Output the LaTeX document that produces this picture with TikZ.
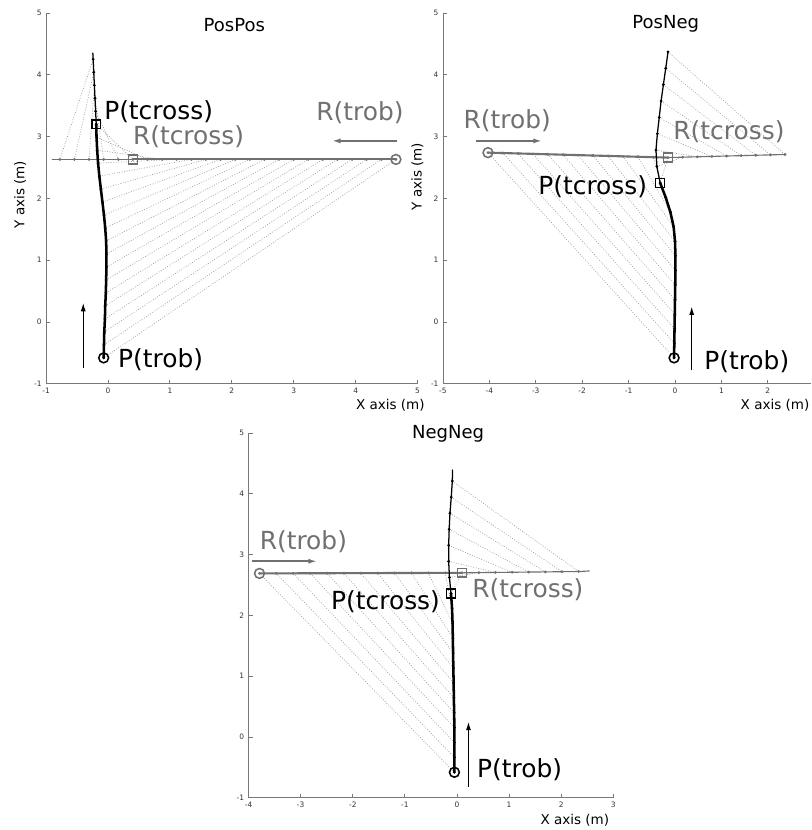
\documentclass[tikz,border=0pt]{standalone}
\usepackage{fontspec}
\setmainfont{DejaVu Sans}
\usetikzlibrary{arrows.meta}
\definecolor{rgrey}{RGB}{112,112,112}
\definecolor{tracegrey}{RGB}{160,160,160}
\definecolor{axisgrey}{RGB}{120,120,120}
\begin{document}
\begin{tikzpicture}[x=0.025cm,y=-0.025cm,
    axisline/.style={axisgrey,line width=0.6pt},
    ticklab/.style={font=\fontsize{5.3}{6}\selectfont,text=black!80,inner sep=1pt},
    axislab/.style={font=\fontsize{9.6}{11}\selectfont,inner sep=0pt},
    paneltitle/.style={font=\fontsize{12.8}{15}\selectfont,inner sep=0pt},
    biglab/.style={font=\fontsize{17.7}{20}\selectfont,inner sep=0pt,anchor=west},
    trace/.style={tracegrey,line width=0.5pt,dash pattern=on 0.6pt off 1.2pt},
    pthick/.style={black,line width=1.8pt,line cap=round,line join=round},
    pthin/.style={black,line width=0.9pt,line cap=round,line join=round},
    rthick/.style={rgrey,line width=1.5pt,line cap=round,line join=round},
    rthin/.style={rgrey,line width=0.8pt,line cap=round,line join=round},
    startmark/.style={circle,draw,line width=1.1pt,minimum size=7pt,inner sep=0pt},
    crossmark/.style={rectangle,draw,line width=1.1pt,minimum size=6.3pt,inner sep=0pt},
    parrow/.style={black,line width=0.8pt,-{Latex[length=6pt,width=3.6pt]}},
    rarrow/.style={rgrey,line width=1.1pt,-{Latex[length=6pt,width=3.6pt]}}]
  \useasboundingbox (0,0) rectangle (811,830);

  % PosPos
  \begin{scope}[shift={(108,322)},x=1.5475cm,y=1.545cm]
    \draw[axisline] (-1,5) -- (-1,-1) -- (5,-1);
    \foreach \t in {-1,...,5} {
      \draw[axisline] (\t,-1) -- ++(0,3pt);
      \node[ticklab,below=2pt] (xta\t) at (\t,-1) {\t};
      \draw[axisline] (-1,\t) -- ++(3pt,0);
      \node[ticklab,left=2pt] (yta\t) at (-1,\t) {\t};
    }
    \foreach \i/\x in {0/-0.07,1/-0.065,2/-0.06,3/-0.05,4/-0.045,5/-0.035,6/-0.03,7/-0.025,
        8/-0.025,9/-0.03,10/-0.045,11/-0.065,12/-0.09,13/-0.115,14/-0.14,15/-0.16,
        16/-0.175,17/-0.185,18/-0.19,19/-0.20,20/-0.21,21/-0.22,22/-0.23,23/-0.24}
      \coordinate (pa\i) at (\x,{-0.58+0.21*\i});
    \foreach \i in {0,...,23}
      \coordinate (ra\i) at ({4.65-0.236*\i},2.63);
    \coordinate (paend) at (-0.245,4.35);
    \coordinate (raend) at (-0.9,2.63);
    \foreach \i in {0,...,23}
      \draw[trace] (pa\i) -- (ra\i);
    \draw[rthick] (ra0) \foreach \i in {1,...,18} {-- (ra\i)};
    \draw[rthin] (ra18) \foreach \i in {19,...,23} {-- (ra\i)} -- (raend);
    \draw[pthick] (pa0) \foreach \i in {1,...,18} {-- (pa\i)};
    \draw[pthin] (pa18) \foreach \i in {19,...,23} {-- (pa\i)} -- (paend);
    \foreach \i in {0,...,23} {
      \fill[rgrey] (ra\i) circle (1.1pt);
      \fill (pa\i) circle (1.1pt);
    }
    \node[startmark,rgrey] (rtroba) at (ra0) {};
    \node[crossmark,rgrey] (rtcra) at (ra18) {};
    \node[startmark] (ptroba) at (pa0) {};
    \node[crossmark] (ptcra) at (pa18) {};
    \coordinate (pfroma) at (-0.40,-0.74);
    \coordinate (ptoa) at (-0.40,0.31);
    \draw[parrow] (pfroma) -- (ptoa);
    \coordinate (rfroma) at (4.67,2.93);
    \coordinate (rtoa) at (3.62,2.93);
    \draw[rarrow] (rfroma) -- (rtoa);
    \node[paneltitle] (titlea) at (2.04,4.81) {PosPos};
    \node[biglab] (pcrossa) at (-0.065,3.40) {P(tcross)};
    \node[biglab,rgrey] (rcrossa) at (0.40,2.99) {R(tcross)};
    \node[biglab,rgrey] (rroba) at (3.36,3.38) {R(trob)};
    \node[biglab] (proba) at (0.16,-0.61) {P(trob)};
    \node[axislab,rotate=90] (ylaba) at (-1.42,2.06) {Y axis (m)};
    \node[axislab] (xlaba) at (4.56,-1.34) {X axis (m)};
  \end{scope}

  % PosNeg
  \begin{scope}[shift={(675,322)},x=1.16cm,y=1.545cm]
    \draw[axisline] (-5,5) -- (-5,-1) -- (2.93,-1);
    \foreach \t in {-5,...,2} {
      \draw[axisline] (\t,-1) -- ++(0,3pt);
      \node[ticklab,below=2pt] (xtb\t) at (\t,-1) {\t};
    }
    \foreach \t in {-1,...,5} {
      \draw[axisline] (-5,\t) -- ++(3pt,0);
      \node[ticklab,left=2pt] (ytb\t) at (-5,\t) {\t};
    }
    \foreach \i/\x/\y in {0/-0.02/-0.58,1/-0.015/-0.344,2/-0.01/-0.108,3/-0.005/0.127,
        4/0.0/0.363,5/0.005/0.599,6/0.01/0.835,7/0.01/1.071,8/0.0/1.306,9/-0.03/1.542,
        10/-0.10/1.778,11/-0.20/2.014,12/-0.32/2.25,13/-0.39/2.515,14/-0.41/2.78,
        15/-0.38/3.045,16/-0.34/3.31,17/-0.30/3.575,18/-0.25/3.84,19/-0.20/4.105,20/-0.15/4.37}
      \coordinate (pb\i) at (\x,\y);
    \foreach \i in {0,...,12}
      \coordinate (rb\i) at ({-4.03+0.3233*\i},{2.74-0.0067*\i});
    \foreach \i in {13,...,20}
      \coordinate (rb\i) at ({-0.15+0.315*(\i-12)},{2.66+0.00625*(\i-12)});
    \foreach \i in {0,...,20}
      \draw[trace] (pb\i) -- (rb\i);
    \draw[rthick] (rb0) \foreach \i in {1,...,12} {-- (rb\i)};
    \draw[rthin] (rb12) \foreach \i in {13,...,20} {-- (rb\i)};
    \draw[pthick] (pb0) \foreach \i in {1,...,12} {-- (pb\i)};
    \draw[pthin] (pb12) \foreach \i in {13,...,20} {-- (pb\i)};
    \foreach \i in {0,...,20} {
      \fill[rgrey] (rb\i) circle (1.1pt);
      \fill (pb\i) circle (1.1pt);
    }
    \node[startmark,rgrey] (rtrobb) at (rb0) {};
    \node[crossmark,rgrey] (rtcrb) at (rb12) {};
    \node[startmark] (ptrobb) at (pb0) {};
    \node[crossmark] (ptcrb) at (pb12) {};
    \coordinate (pfromb) at (0.36,-0.78);
    \coordinate (ptob) at (0.36,0.25);
    \draw[parrow] (pfromb) -- (ptob);
    \coordinate (rfromb) at (-4.29,2.93);
    \coordinate (rtob) at (-2.87,2.93);
    \draw[rarrow] (rfromb) -- (rtob);
    \node[paneltitle] (titleb) at (-0.20,4.83) {PosNeg};
    \node[biglab,rgrey] (rrobb) at (-4.56,3.26) {R(trob)};
    \node[biglab,rgrey] (rcrossb) at (-0.04,3.08) {R(tcross)};
    \node[biglab] (pcrossb) at (-2.95,2.19) {P(tcross)};
    \node[biglab] (probb) at (0.625,-0.64) {P(trob)};
    \node[axislab,rotate=90] (ylabb) at (-5.55,2.35) {Y axis (m)};
    \node[axislab] (xlabb) at (2.155,-1.34) {X axis (m)};
  \end{scope}

  % NegNeg
  \begin{scope}[shift={(457,737)},x=1.3025cm,y=1.52cm]
    \draw[axisline] (-4,5) -- (-4,-1) -- (3,-1);
    \foreach \t in {-4,...,3} {
      \draw[axisline] (\t,-1) -- ++(0,3pt);
      \node[ticklab,below=2pt] (xtc\t) at (\t,-1) {\t};
    }
    \foreach \t in {-1,...,5} {
      \draw[axisline] (-4,\t) -- ++(3pt,0);
      \node[ticklab,left=2pt] (ytc\t) at (-4,\t) {\t};
    }
    \foreach \i/\x/\y in {0/-0.05/-0.58,1/-0.05/-0.335,2/-0.05/-0.09,3/-0.05/0.155,
        4/-0.055/0.40,5/-0.06/0.645,6/-0.065/0.89,7/-0.07/1.135,8/-0.075/1.38,
        9/-0.08/1.625,10/-0.085/1.87,11/-0.095/2.115,12/-0.115/2.36,13/-0.145/2.624,
        14/-0.16/2.888,15/-0.16/3.152,16/-0.15/3.416,17/-0.135/3.68,18/-0.11/3.944,19/-0.09/4.208}
      \coordinate (pc\i) at (\x,\y);
    \foreach \i in {0,...,12}
      \coordinate (rc\i) at ({-3.79+0.324*\i},{2.69+0.0008*\i});
    \foreach \i in {13,...,19}
      \coordinate (rc\i) at ({0.1+0.319*(\i-12)},{2.70+0.003*(\i-12)});
    \coordinate (pcend) at (-0.085,4.39);
    \coordinate (rcend) at (2.54,2.73);
    \foreach \i in {0,...,19}
      \draw[trace] (pc\i) -- (rc\i);
    \draw[rthick] (rc0) \foreach \i in {1,...,12} {-- (rc\i)};
    \draw[rthin] (rc12) \foreach \i in {13,...,19} {-- (rc\i)} -- (rcend);
    \draw[pthick] (pc0) \foreach \i in {1,...,12} {-- (pc\i)};
    \draw[pthin] (pc12) \foreach \i in {13,...,19} {-- (pc\i)} -- (pcend);
    \foreach \i in {0,...,19} {
      \fill[rgrey] (rc\i) circle (1.1pt);
      \fill (pc\i) circle (1.1pt);
    }
    \node[startmark,rgrey] (rtrobc) at (rc0) {};
    \node[crossmark,rgrey] (rtcrc) at (rc12) {};
    \node[startmark] (ptrobc) at (pc0) {};
    \node[crossmark] (ptcrc) at (pc12) {};
    \coordinate (pfromc) at (0.22,-0.82);
    \coordinate (ptoc) at (0.22,0.25);
    \draw[parrow] (pfromc) -- (ptoc);
    \coordinate (rfromc) at (-3.94,2.89);
    \coordinate (rtoc) at (-2.69,2.89);
    \draw[rarrow] (rfromc) -- (rtoc);
    \node[paneltitle] (titlec) at (-0.17,4.99) {NegNeg};
    \node[biglab,rgrey] (rrobc) at (-3.79,3.21) {R(trob)};
    \node[biglab,rgrey] (rcrossc) at (0.29,2.42) {R(tcross)};
    \node[biglab] (pcrossc) at (-2.42,2.23) {P(tcross)};
    \node[biglab] (probc) at (0.38,-0.54) {P(trob)};
    \node[axislab] (xlabc) at (2.26,-1.37) {X axis (m)};
  \end{scope}
\end{tikzpicture}
\end{document}
